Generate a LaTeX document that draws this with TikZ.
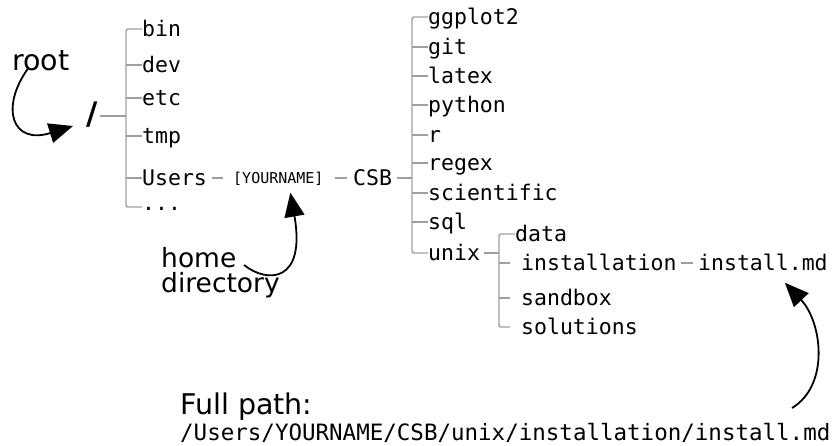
\documentclass[tikz,border=0pt]{standalone}
\usepackage{fontspec}
\setmainfont{DejaVu Sans}
\setmonofont{DejaVu Sans Mono}
\usetikzlibrary{arrows.meta,positioning,calc}

\begin{document}
\begin{tikzpicture}[x=1pt,y=-1pt,
dir/.style={anchor=west,inner sep=0pt,font=\fontsize{21.5}{24}\ttfamily,text height=15pt,text depth=0pt},
note/.style={inner sep=0pt,font=\fontsize{26.5}{25}\selectfont,align=left},
branch/.style={draw=gray!75,line width=1.4pt,rounded corners=2pt},
pointer/.style={-{Triangle[length=24pt,width=20pt]},line width=1.8pt,black}]

\useasboundingbox (0,0) rectangle (832,445);

%notes
\node[note,anchor=north west,font=\fontsize{28.5}{24}\selectfont] (root) at (12,50) {root};
\node[note,anchor=north west] (home) at (161,247) {home\\directory};
\node[note,anchor=north west,font=\fontsize{28.5}{24}\selectfont] (fullpath) at (180,393) {Full path:};
\node[dir,anchor=base west,font=\fontsize{22.5}{24}\ttfamily] (path) at (180,440)
{/Users/YOURNAME/CSB/unix/installation/install.md};

%root level
\node[inner sep=0pt,font=\fontsize{31}{31}\bfseries\selectfont] (slash) at (92,115) {/};
\coordinate (t1) at (126,116);
\node[dir] (bin) at (142,29) {bin};
\node[dir] (dev) at (142,65) {dev};
\node[dir] (etc) at (142,98) {etc};
\node[dir] (tmp) at (142,136) {tmp};
\node[dir] (users) at (142,178) {Users};
\node[dir] (dots) at (142,203) {...};

%home level
\node[dir,font=\fontsize{15}{18}\ttfamily,text height=11pt] (yourname) at (233,178) {[YOURNAME]};
\node[dir] (csb) at (353,178) {CSB};

%CSB level
\coordinate (t2) at (412,178);
\node[dir] (ggplot) at (428,17) {ggplot2};
\node[dir] (git) at (428,47) {git};
\node[dir] (latex) at (428,76) {latex};
\node[dir] (python) at (428,105) {python};
\node[dir] (r) at (428,135) {r};
\node[dir] (regex) at (428,163) {regex};
\node[dir] (scientific) at (428,193) {scientific};
\node[dir] (sql) at (428,222) {sql};
\node[dir] (unix) at (428,253) {unix};

%unix level
\coordinate (t3) at (499,253);
\node[dir] (data) at (515,234) {data};
\node[dir] (installation) at (521,263) {installation};
\node[dir] (sandbox) at (521,298) {sandbox};
\node[dir] (solutions) at (521,327) {solutions};
\node[dir] (installmd) at (698,263) {install.md};

%tree lines
\draw[branch,shorten <=2pt] (slash.east |- t1) -- (t1);
\draw[branch] (bin.west) -| (t1 |- dots.west) -- ++(0,4) -- ([yshift=-4pt]dots.west);
\foreach \n in {dev,etc,tmp,users}
  \draw[branch] (t1 |- \n.west) -- (\n.west);
\draw[branch,shorten <=5pt,shorten >=10pt] (users.east) -- (users.east -| yourname.west);
\draw[branch,shorten <=11pt,shorten >=6pt] (yourname.east) -- (yourname.east -| csb.west);
\draw[branch,shorten <=5pt] (csb.east) -- (t2);
\draw[branch] (ggplot.west) -| (t2 |- unix.west) -- (unix.west);
\foreach \n in {git,latex,python,r,regex,scientific,sql}
  \draw[branch] (t2 |- \n.west) -- (\n.west);
\draw[branch,shorten <=4pt] (unix.east) -- (t3);
\draw[branch] (data.west) -| (t3 |- solutions.west) -- ++(11,0);
\foreach \n in {installation,sandbox}
  \draw[branch] (t3 |- \n.west) -- ++(11,0);
\draw[branch,shorten <=4pt,shorten >=5pt] (installation.east) -- (installmd.west);

%pointers
\draw[pointer] ([xshift=-13pt,yshift=2pt]root.south) .. controls (0,108) and (12,145) .. (73,126);
\coordinate (hometail) at (244,265);
\draw[pointer] (hometail) .. controls (268,284) and (306,282) .. ([xshift=12pt,yshift=-9pt]yourname.south);
\coordinate (pathtail) at (792,408);
\draw[pointer] (pathtail) .. controls (830,385) and (822,322) .. ([xshift=-43pt,yshift=-12pt]installmd.south east);

\end{tikzpicture}
\end{document}
